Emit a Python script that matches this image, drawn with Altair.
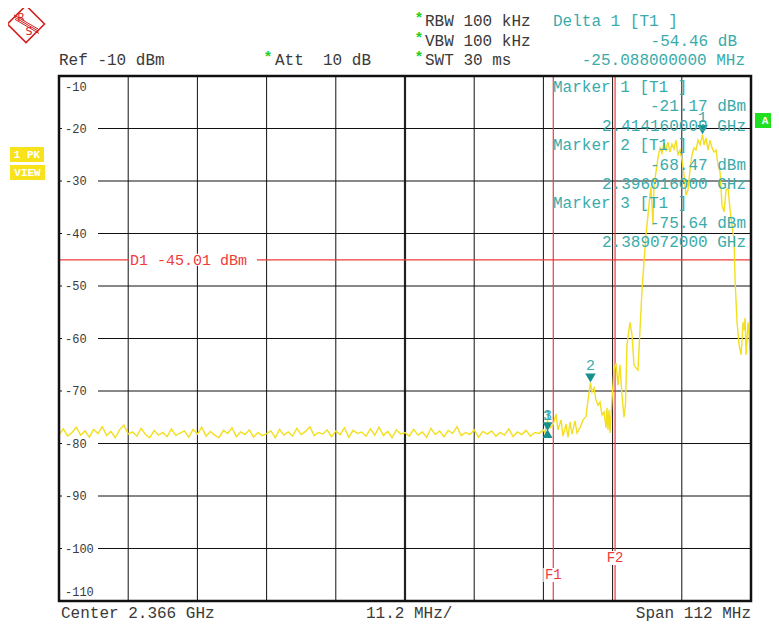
import altair as alt
import pandas as pd
import numpy as np

# ---------------- data ----------------
start_f, stop_f = 2310.0, 2422.0          # MHz  (center 2.366 GHz, span 112 MHz)
ref_top, ref_bottom = -10.0, -110.0       # dBm

# noise floor sweep points (2310 .. 2388.4 MHz)
noise_stop = 2388.4
noise_levels = [
    -78.3, -77.2, -78.6, -77.9, -76.9, -78.4, -77.6, -78.8, -77.3, -78.1,
    -76.8, -78.5, -77.7, -78.9, -77.4, -76.5, -78.2, -77.8, -78.6, -77.1,
    -78.3, -78.9, -77.5, -78.4, -77.9, -78.7, -77.2, -78.5, -78.0, -77.6,
    -78.8, -77.3, -78.2, -76.9, -78.6, -77.7, -78.4, -78.9, -77.5, -78.1,
    -77.0, -78.7, -77.8, -78.3, -77.4, -78.8, -77.9, -78.5, -78.1, -77.6,
    -78.9, -77.3, -78.4, -77.8, -78.6, -77.1, -78.3, -77.7, -76.8, -78.5,
    -77.9, -78.2, -77.4, -78.7, -77.6, -78.3, -77.0, -78.8, -77.5, -78.1,
    -77.8, -78.6, -77.2, -78.4, -76.9, -78.5, -77.7, -78.9, -77.4, -78.2,
    -77.9, -78.6, -77.3, -78.4, -77.8, -78.8, -77.1, -78.3, -77.6, -78.7,
    -77.5, -78.1, -76.8, -78.5, -77.9, -78.3, -77.4, -78.8, -77.7, -78.2,
    -77.6, -78.6, -77.9, -78.4, -77.2, -78.7, -77.8, -78.3, -77.5, -78.6,
    -77.9, -78.1, -77.4,
]

# signal region sweep points
sig_freqs = [
    2388.66, 2389.07, 2389.47, 2389.95, 2390.44, 2390.76, 2391.25, 2391.57, 2392.06, 2392.38,
    2392.70, 2393.03, 2393.51, 2393.84, 2394.32, 2394.81, 2395.29, 2395.62, 2396.016, 2396.27,
    2396.59, 2396.91, 2397.24, 2397.56, 2397.88, 2398.21, 2398.53, 2398.69, 2398.85, 2399.02,
    2399.18, 2399.50, 2399.82, 2400.15, 2400.47, 2400.80, 2401.12, 2401.44, 2401.68, 2401.93,
    2402.25, 2402.41, 2402.74, 2403.06, 2403.38, 2403.71, 2404.03, 2404.36, 2404.68, 2405.00,
    2405.33, 2405.65, 2405.81, 2406.14, 2406.30, 2406.62, 2406.95, 2407.27, 2407.59, 2407.92,
    2408.24, 2408.56, 2408.89, 2409.21, 2409.54, 2409.86, 2410.18, 2410.51, 2410.83, 2411.16,
    2411.48, 2411.80, 2412.13, 2412.45, 2412.77, 2413.10, 2413.42, 2413.75, 2414.16, 2414.40,
    2414.72, 2415.05, 2415.37, 2415.69, 2416.02, 2416.34, 2416.67, 2416.99, 2417.31, 2417.64,
    2417.96, 2418.29, 2418.61, 2418.93, 2419.26, 2419.42, 2419.74, 2420.07, 2420.39, 2420.55,
    2420.72, 2420.88, 2421.04, 2421.20, 2421.53, 2421.85, 2422.0,
]
sig_levels = [
    -78.0, -75.64, -77.0, -76.5, -74.4, -77.4, -75.5, -78.6, -76.3, -78.8,
    -75.9, -78.2, -75.7, -78.0, -77.0, -75.5, -74.9, -71.7, -68.47, -70.2,
    -69.4, -71.7, -72.7, -72.1, -74.6, -74.0, -77.0, -73.2, -77.4, -73.6,
    -78.0, -71.7, -66.0, -64.7, -68.9, -65.0, -70.8, -75.0, -72.7, -61.2,
    -58.4, -56.9, -59.3, -65.0, -65.6, -66.0, -58.4, -50.8, -45.4, -40.3,
    -36.5, -32.7, -31.1, -38.4, -30.8, -28.3, -25.6, -23.7, -24.7, -22.8,
    -24.1, -22.6, -24.5, -23.0, -23.9, -22.2, -25.0, -24.1, -26.0, -28.9,
    -32.7, -31.7, -27.9, -25.0, -23.7, -24.1, -22.2, -23.1, -21.17, -23.1,
    -21.8, -24.1, -22.2, -23.7, -24.5, -24.1, -27.0, -28.3, -34.6, -35.9,
    -31.7, -31.3, -35.5, -38.4, -41.2, -48.9, -56.9, -61.2, -63.1, -60.3,
    -56.9, -58.4, -56.1, -63.1, -56.9, -62.2, -61.2,
]

grid_freqs = [2321.2, 2332.4, 2343.6, 2354.8, 2377.2, 2388.4, 2399.6, 2410.8]
center_freqs = [2366.0]
grid_levels = [-20, -30, -40, -50, -60, -70, -80, -90, -100]
ylab_text = ["-10", "-20", "-30", "-40", "-50", "-60", "-70", "-80", "-90", "-100", "-110"]
ylab_level = [-12.0, -20, -30, -40, -50, -60, -70, -80, -90, -100, -108.2]

display_line = [-45.01]
display_label = ["D1 -45.01 dBm"]
limit_freqs = [2390.0, 2400.0]
limit_names = ["F1", "F2"]

marker_ids = ["1", "2"]
marker_freqs = [2414.16, 2396.016]
marker_levels = [-21.17, -68.47]
marker3_freq = [2389.072]
marker3_level = [-75.64]

header_left = ["Ref -10 dBm", "Att\u00a0\u00a010 dB"]
settings = ["RBW 100 kHz", "VBW 100 kHz", "SWT 30 ms"]
delta_lines = ["Delta 1 [T1 ]", "-54.46 dB", "-25.088000000 MHz"]
marker_block = [
    "Marker 1 [T1 ]", "-21.17 dBm", "2.414160000 GHz",
    "Marker 2 [T1 ]", "-68.47 dBm", "2.396016000 GHz",
    "Marker 3 [T1 ]", "-75.64 dBm", "2.389072000 GHz",
]
footer = ["Center 2.366 GHz", "11.2 MHz/", "Span 112 MHz"]

# ---------------- style ----------------
MONO = "Liberation Mono"
W, H = 692, 525
YEL = "#f3df1e"
TEAL = "#3aabab"
TEAL_D = "#17908f"
RED = "#f03a3a"
GREY = "#3a3a3a"
GREEN = "#22d022"

xs = alt.Scale(domain=[start_f, stop_f], nice=False, zero=False)
ys = alt.Scale(domain=[ref_bottom, ref_top], nice=False, zero=False)
X = lambda f: alt.X(f, scale=xs, axis=None)
Y = lambda f: alt.Y(f, scale=ys, axis=None)

one = pd.DataFrame({"k": [0]})


def txt(s, x, y, color=GREY, size=16, align="left", baseline="alphabetic", weight="normal", font=MONO):
    return alt.Chart(pd.DataFrame({"t": [s]})).mark_text(
        align=align, baseline=baseline, font=font, fontSize=size, color=color, fontWeight=weight
    ).encode(x=alt.value(x), y=alt.value(y), text="t:N")


def box(x, x2, y, y2, color):
    return alt.Chart(one).mark_rect(color=color).encode(
        x=alt.value(x), x2=alt.value(x2), y=alt.value(y), y2=alt.value(y2))


def seg(x, y, x2, y2, color, w=1.0):
    return alt.Chart(one).mark_rule(color=color, strokeWidth=w).encode(
        x=alt.value(x), y=alt.value(y), x2=alt.value(x2), y2=alt.value(y2))


trace = pd.DataFrame({
    "f": list(np.linspace(start_f, noise_stop, len(noise_levels))) + sig_freqs,
    "L": noise_levels + sig_levels,
})

layers = []

# grid
layers.append(alt.Chart(pd.DataFrame({"f": grid_freqs})).mark_rule(color="#111", strokeWidth=1)
              .encode(x=X("f:Q"), y=alt.value(0), y2=alt.value(H)))
layers.append(alt.Chart(pd.DataFrame({"f": center_freqs})).mark_rule(color="#222", strokeWidth=2.2)
              .encode(x=X("f:Q"), y=alt.value(0), y2=alt.value(H)))
layers.append(alt.Chart(pd.DataFrame({"L": grid_levels})).mark_rule(color="#111", strokeWidth=1)
              .encode(y=Y("L:Q"), x=alt.value(0), x2=alt.value(W)))
# y labels with white gaps
ylab = pd.DataFrame({"t": ylab_text, "L": ylab_level})
layers.append(alt.Chart(ylab).mark_tick(orient="horizontal", size=36, thickness=11, color="white", opacity=1)
              .encode(y=Y("L:Q"), x=alt.value(21)))
layers.append(alt.Chart(ylab).mark_text(align="left", baseline="middle", font=MONO, fontSize=12, color=GREY)
              .encode(y=Y("L:Q"), x=alt.value(6), text="t:N"))

# display line D1
layers.append(alt.Chart(pd.DataFrame({"L": display_line})).mark_rule(color=RED, strokeWidth=1.2)
              .encode(y=Y("L:Q"), x=alt.value(0), x2=alt.value(W)))
dl = pd.DataFrame({"L": display_line, "t": display_label})
layers.append(alt.Chart(dl).mark_tick(orient="horizontal", size=128, thickness=12, color="white", opacity=1)
              .encode(y=Y("L:Q"), x=alt.value(134)))
layers.append(alt.Chart(dl).mark_text(align="left", baseline="middle", font=MONO, fontSize=15, color=RED)
              .encode(y=Y("L:Q"), x=alt.value(71), text="t:N"))

# frequency lines F1 / F2
layers.append(alt.Chart(pd.DataFrame({"f": limit_freqs})).mark_rule(color=RED, strokeWidth=1.2)
              .encode(x=X("f:Q"), y=alt.value(0), y2=alt.value(H)))

# trace
layers.append(alt.Chart(trace).mark_line(color=YEL, strokeWidth=1.4, interpolate="linear")
              .encode(x=X("f:Q"), y=Y("L:Q"), order="f:Q"))

# F labels
for name, f, yy in zip(limit_names, limit_freqs, [499, 482]):
    d = pd.DataFrame({"f": [f], "t": [name]})
    layers.append(alt.Chart(d).mark_tick(orient="horizontal", size=20, thickness=14, color="white", opacity=1)
                  .encode(x=X("f:Q"), y=alt.value(yy)))
    layers.append(alt.Chart(d).mark_text(align="center", baseline="middle", font=MONO, fontSize=14, color=RED)
                  .encode(x=X("f:Q"), y=alt.value(yy), text="t:N"))

# markers
mk = pd.DataFrame({"f": marker_freqs, "L": marker_levels, "id": marker_ids})
layers.append(alt.Chart(mk).mark_point(shape="triangle-down", filled=True, size=110, color=TEAL_D, opacity=1, yOffset=-5)
              .encode(x=X("f:Q"), y=Y("L:Q")))
layers.append(alt.Chart(mk).mark_text(font=MONO, fontSize=15, color=TEAL, baseline="middle", dy=-18)
              .encode(x=X("f:Q"), y=Y("L:Q"), text="id:N"))
m3 = pd.DataFrame({"f": marker3_freq, "L": marker3_level})
layers.append(alt.Chart(m3).mark_point(shape="triangle-down", filled=True, size=100, color=TEAL_D, opacity=1, yOffset=6)
              .encode(x=X("f:Q"), y=Y("L:Q")))
layers.append(alt.Chart(m3).mark_point(shape="triangle-up", filled=True, size=100, color=TEAL_D, opacity=1, yOffset=13)
              .encode(x=X("f:Q"), y=Y("L:Q")))
for lab in ["1", "3"]:
    layers.append(alt.Chart(m3.assign(t=lab)).mark_text(font=MONO, fontSize=15, color=TEAL, baseline="middle", dy=-6)
                  .encode(x=X("f:Q"), y=Y("L:Q"), text="t:N"))

# marker block text (inside plot)
for i, s in enumerate(marker_block):
    yb = 16 + i * 19.4
    if i % 3 == 0:
        layers.append(txt(s, 494, yb, TEAL))
    else:
        layers.append(txt(s, 687, yb, TEAL, align="right"))

# frame
layers.append(alt.Chart(one).mark_rect(fillOpacity=0, stroke="#111", strokeWidth=2.5)
              .encode(x=alt.value(0), x2=alt.value(W), y=alt.value(0), y2=alt.value(H)))

# header
layers.append(txt(header_left[0], 0, -11))
layers.append(txt("*", 209, -14, GREEN, size=15, align="center", weight="bold"))
layers.append(txt(header_left[1], 216, -11))
for i, s in enumerate(settings):
    yb = -50 + i * 19.5
    layers.append(txt("*", 360, yb - 3, GREEN, size=15, align="center", weight="bold"))
    layers.append(txt(s, 366, yb))
layers.append(txt(delta_lines[0], 494, -50, TEAL))
layers.append(txt(delta_lines[1], 678, -30.5, TEAL, align="right"))
layers.append(txt(delta_lines[2], 686, -11, TEAL, align="right"))

# footer
layers.append(txt(footer[0], 2, 542))
layers.append(txt(footer[1], 307, 542))
layers.append(txt(footer[2], 692, 542, align="right"))

# trace info boxes
layers.append(box(-49, -15, 71, 86, "#f7e21c"))
layers.append(box(-49, -14, 89, 104, "#f7e21c"))
layers.append(txt("1 PK", -32, 79, "white", size=11, align="center", baseline="middle", weight="bold"))
layers.append(txt("VIEW", -31.5, 97, "white", size=11, align="center", baseline="middle", weight="bold"))
layers.append(box(696, 712, 37, 52, "#1ee01e"))
layers.append(txt("A", 706, 45, "white", size=11, align="center", baseline="middle", weight="bold"))

# R&S logo
layers.append(alt.Chart(one).mark_point(shape="diamond", size=1370, filled=False, color="#d42020", strokeWidth=1.6, opacity=1)
              .encode(x=alt.value(-33), y=alt.value(-52)))
for k in range(3):
    layers.append(seg(-45 + k * 0.5, -61 + k * 2.2, -21 + k * 0.5, -47 + k * 2.2, "#d42020", 1))
layers.append(txt("R", -38, -58, "#d42020", size=11, align="center", baseline="middle", font="DejaVu Sans"))
layers.append(txt("S", -30, -44, "#d42020", size=11, align="center", baseline="middle", font="DejaVu Sans"))

chart = alt.layer(*layers).properties(
    width=W, height=H,
    padding={"left": 51, "top": 68, "right": 20, "bottom": 22},
    autosize=alt.AutoSizeParams(type="none"),
).configure_view(stroke=None).configure(background="white")

chart.save("out.html", embed_options={"renderer": "svg", "actions": False})
